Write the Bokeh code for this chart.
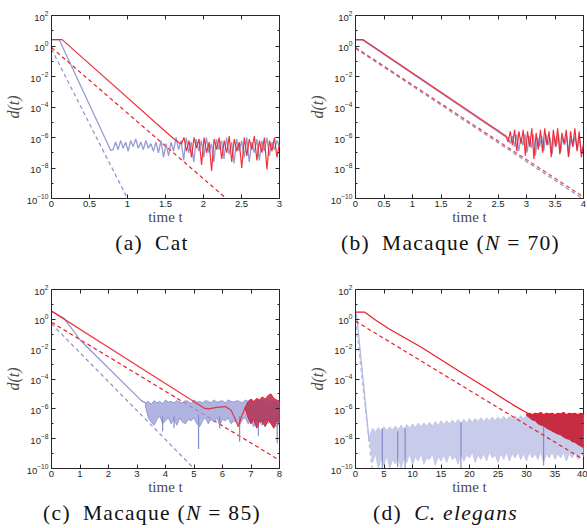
import numpy as np
from bokeh.plotting import figure
from bokeh.models import Range1d, FixedTicker, LogAxis, LinearAxis, Div
from bokeh.layouts import column, row
from bokeh.embed import file_html
from bokeh.resources import INLINE

# ------------------------------------------------------------------
# Data (values are log10 d(t))
# ------------------------------------------------------------------
y_major = [1e-10, 1e-8, 1e-6, 1e-4, 1e-2, 1e0, 1e2]
y_minor = [1e-9, 1e-7, 1e-5, 1e-3, 1e-1, 1e1]

# (a) Cat
xt_a = [0, 0.5, 1, 1.5, 2, 2.5, 3]
xl_a = ["0", "0.5", "1", "1.5", "2", "2.5", "3"]
red_a_t = [0.0, 0.14, 1.60, 1.68]
red_a_v = [0.42, 0.42, -6.05, -6.35]
red_a_noise_span = (1.71, 3.0)
red_a_noise = [-6.4, -6.0, -6.9, -6.2, -7.3, -6.0, -6.7, -6.1, -7.8, -6.0,
               -7.0, -6.3, -8.2, -6.1, -6.8, -6.0, -7.4, -6.2, -7.0, -5.9,
               -7.6, -6.1, -6.9, -6.3, -8.0, -6.0, -7.2, -6.1, -6.8, -5.9,
               -7.5, -6.2, -7.0, -6.0, -8.1, -6.2, -6.9, -6.0, -7.3, -6.4]
blue_a_t = [0.0, 0.10, 0.78]
blue_a_v = [0.42, 0.42, -6.85]
blue_a_noise_span = (0.81, 3.0)
blue_a_noise = [-6.8, -6.3, -6.8, -6.2, -6.7, -6.3, -6.9, -6.2, -6.6, -6.1,
                -6.7, -6.3, -6.8, -6.2, -6.7, -6.4, -6.9, -6.3, -7.0, -6.2,
                -7.3, -6.4, -7.2, -6.3, -6.9, -6.0, -6.8, -6.2, -7.5, -6.0,
                -7.0, -6.3, -7.6, -6.1, -6.9, -6.2, -7.3, -6.0, -7.0, -6.4,
                -7.6, -6.1, -6.8, -6.2, -7.4, -6.0, -7.1, -6.3, -7.7, -6.1,
                -6.9, -6.2, -7.3, -6.0, -7.6, -6.3, -7.0, -6.1, -7.5, -6.2,
                -6.9, -6.0, -7.2, -6.3, -6.8, -6.2, -6.6]
red_a_dash_t, red_a_dash_v = [0.0, 2.3], [-0.1, -10.0]
blue_a_dash_t, blue_a_dash_v = [0.0, 1.0], [-0.2, -10.0]

# (b) Macaque (N = 70)
xt_b = [0, 0.5, 1, 1.5, 2, 2.5, 3, 3.5, 4]
xl_b = ["0", "0.5", "1", "1.5", "2", "2.5", "3", "3.5", "4"]
red_b_t = [0.0, 0.13, 2.62]
red_b_v = [0.42, 0.42, -5.85]
red_b_noise_span = (2.64, 4.0)
red_b_noise = [-5.9, -6.3, -5.6, -6.5, -5.5, -6.9, -5.6, -6.4, -5.5, -7.2,
               -5.6, -6.6, -5.4, -7.4, -5.7, -6.8, -5.5, -7.0, -5.4, -6.5,
               -5.6, -7.3, -5.5, -6.6, -5.4, -7.1, -5.7, -6.4, -5.5, -7.3,
               -5.6, -6.6, -5.4, -6.9, -5.6, -7.3, -6.4]
blue_b_t = [0.0, 0.13, 2.65]
blue_b_v = [0.40, 0.38, -6.0]
blue_b_noise_span = (2.68, 4.0)
blue_b_noise = [-6.0, -6.4, -5.9, -6.6, -5.8, -6.9, -6.0, -6.5, -5.8, -7.0,
                -5.9, -6.7, -5.8, -7.2, -6.0, -6.6, -5.9, -6.9, -5.8, -6.5,
                -6.0, -7.1, -5.9, -6.6, -5.8, -7.0, -6.0, -6.5, -5.9, -7.2,
                -6.0, -6.6, -5.9, -6.8, -6.0, -7.0, -6.5]
red_b_dash_t, red_b_dash_v = [0.0, 4.0], [-0.1, -9.9]
blue_b_dash_t, blue_b_dash_v = [0.0, 4.0], [-0.16, -10.05]

# (c) Macaque (N = 85)
xt_c = [0, 1, 2, 3, 4, 5, 6, 7, 8]
xl_c = ["0", "1", "2", "3", "4", "5", "6", "7", "8"]
red_c_t = [0.0, 5.35, 5.5, 5.8, 6.1, 6.3, 6.45, 6.55, 6.65, 6.8]
red_c_v = [0.55, -5.95, -6.0, -5.9, -5.85, -6.1, -6.7, -7.2, -6.6, -5.9]
red_c_band_span = (6.8, 8.0)
red_c_upper = [-5.9, -5.5, -5.35, -5.5, -5.3, -5.4, -5.2, -5.35, -5.1, -5.0,
               -5.3, -5.4, -5.5]
red_c_lower = [-6.0, -6.6, -7.0, -6.7, -7.3, -6.8, -6.9, -7.2, -6.7, -7.0,
               -7.3, -6.8, -6.9]
blue_c_t = [0.0, 0.45, 1.02, 3.15, 3.3]
blue_c_v = [0.55, 0.05, -1.42, -5.45, -5.6]
blue_c_band_span = (3.3, 8.0)
blue_c_upper = [-5.6, -5.5, -5.7, -5.45, -5.6, -5.5, -5.65, -5.4, -5.55, -5.5,
                -5.6, -5.45, -5.55, -5.6, -5.45, -5.5, -5.65, -5.4, -5.55, -5.5,
                -5.6, -5.45, -5.5, -5.6, -5.4, -5.55, -5.5, -5.45, -5.6, -5.4,
                -5.5, -5.55, -5.45, -5.5, -5.6, -5.4, -5.5, -5.45, -5.55, -5.4,
                -5.5, -5.45, -5.6, -5.4, -5.5, -5.55, -5.45, -5.5]
blue_c_lower = [-5.9, -6.6, -6.9, -7.1, -6.7, -6.5, -7.0, -6.8, -6.6, -7.0,
                -6.7, -7.1, -6.6, -6.9, -7.0, -6.7, -6.8, -6.6, -7.0, -7.2,
                -6.8, -6.6, -7.0, -6.7, -6.9, -6.6, -7.1, -6.7, -6.8, -6.6,
                -7.0, -6.8, -6.9, -7.1, -6.7, -6.6, -7.0, -6.8, -7.2, -6.7,
                -6.9, -7.1, -6.6, -7.0, -6.8, -7.1, -7.2, -7.0]
blue_c_spike_t = [3.9, 4.3, 5.16, 5.9, 6.6, 7.26, 7.92]
blue_c_spike_top = [-6.5, -6.5, -6.4, -6.5, -6.5, -6.5, -6.5]
blue_c_spike_bot = [-7.5, -7.3, -8.7, -7.3, -8.2, -7.8, -8.3]
red_c_dash_t, red_c_dash_v = [0.0, 8.0], [-0.2, -9.45]
blue_c_dash_t, blue_c_dash_v = [0.0, 5.0], [-0.3, -10.0]

# (d) C. elegans
xt_d = [0, 5, 10, 15, 20, 25, 30, 35, 40]
xl_d = ["0", "5", "10", "15", "20", "25", "30", "35", "40"]
red_d_t = [0.0, 1.63, 3.5, 5.85, 11.7, 17.5, 23.4, 27.5, 29.5, 30.5]
red_d_v = [0.48, 0.48, -0.05, -0.63, -1.91, -3.32, -4.7, -5.7, -6.15, -6.35]
red_d_band_span = (30.0, 40.0)
red_d_upper = [-6.35, -6.3, -6.4, -6.3, -6.35, -6.25, -6.4, -6.3, -6.35, -6.3,
               -6.4, -6.3, -6.35, -6.25, -6.4, -6.3, -6.35, -6.3, -6.4, -6.3,
               -6.35]
red_d_lower = [-6.45, -6.6, -6.75, -6.8, -7.0, -7.1, -7.15, -7.3, -7.4, -7.5,
               -7.6, -7.7, -7.75, -7.9, -8.0, -8.05, -8.2, -8.25, -8.4, -8.5,
               -8.6]
blue_d_t = [0.0, 0.2, 2.4]
blue_d_v = [0.45, 0.3, -8.2]
blue_d_band_span = (2.5, 40.0)
blue_d_upper = [-7.75, -7.3, -7.55, -7.25, -7.5, -7.2, -7.45, -7.2, -7.4, -7.15,
                -7.4, -7.1, -7.35, -7.05, -7.3, -7.0, -7.25, -6.95, -7.2, -6.95,
                -7.15, -6.9, -7.15, -6.85, -7.1, -6.8, -7.05, -6.8, -7.0, -6.75,
                -7.0, -6.7, -6.95, -6.7, -6.95, -6.65, -6.9, -6.65, -6.85, -6.6,
                -6.85, -6.6, -6.8, -6.55, -6.8, -6.55, -6.75, -6.5, -6.75, -6.5,
                -6.7, -6.45, -6.7, -6.45, -6.65, -6.45, -6.65, -6.4, -6.65, -6.4,
                -6.6, -6.4, -6.6, -6.4, -6.6, -6.4, -6.6, -6.4, -6.6, -6.4,
                -6.6, -6.4, -6.6, -6.4, -6.6, -6.4]
blue_d_lower = [-8.0, -9.6, -9.0, -10.0, -9.3, -9.8, -9.1, -10.0, -9.4, -9.7,
                -9.2, -10.0, -9.3, -9.6, -9.0, -9.8, -9.2, -9.5, -9.0, -9.7,
                -9.3, -9.4, -9.0, -9.8, -9.2, -9.5, -9.1, -9.6, -9.0, -9.4,
                -9.2, -9.7, -9.0, -9.5, -9.1, -9.3, -8.9, -9.6, -9.1, -9.4,
                -9.0, -9.5, -8.9, -9.3, -9.1, -9.6, -9.0, -9.4, -8.9, -9.5,
                -9.0, -9.3, -8.9, -9.4, -9.0, -9.5, -8.9, -9.3, -9.0, -9.4,
                -8.9, -9.6, -9.0, -9.3, -8.9, -9.4, -9.0, -9.3, -8.9, -9.5,
                -9.0, -9.3, -8.9, -9.4, -9.0, -9.2]
blue_d_spike_t = [4.7, 7.4, 8.7, 18.5, 33.0]
blue_d_spike_top = [-7.3, -7.5, -7.3, -6.9, -6.8]
blue_d_spike_bot = [-10.0, -9.9, -10.0, -10.0, -9.8]
red_d_dash_t, red_d_dash_v = [0.0, 40.0], [-0.12, -9.4]
blue_d_dash_t, blue_d_dash_v = [0.0, 2.9], [0.0, -10.0]

captions = [
    "(a)&ensp;Cat",
    "(b)&ensp;Macaque (<i>N</i>&nbsp;=&nbsp;70)",
    "(c)&ensp;Macaque (<i>N</i>&nbsp;=&nbsp;85)",
    "(d)&ensp;<i>C.&nbsp;elegans</i>",
]
x_title = "time t"
y_title = "d(t)"

# ------------------------------------------------------------------
RED = "#ee1c25"
BLUE = "#7c83c6"
BLUE_DASH = "#8a90d0"
AX = "#262626"
SERIF = "Liberation Serif"


def P(v):
    return [10.0 ** x for x in v]


def span_t(span, vals):
    return list(np.linspace(span[0], span[1], len(vals)))


def make_panel(xmax, xt, xl, mbl, mbr, mbt, mbb, frame_h):
    p = figure(frame_width=228, frame_height=frame_h, x_range=Range1d(0, xmax),
               y_range=Range1d(1e-10, 1e2), y_axis_type="log",
               output_backend="svg", toolbar_location=None,
               min_border_left=mbl, min_border_right=mbr,
               min_border_top=mbt, min_border_bottom=mbb)
    p.xgrid.visible = False
    p.ygrid.visible = False
    p.outline_line_color = AX
    p.outline_line_width = 1
    p.background_fill_color = "white"
    p.border_fill_color = "white"

    xa = p.xaxis[0]
    xa.ticker = FixedTicker(ticks=xt, minor_ticks=[])
    xa.major_label_overrides = {float(t): s for t, s in zip(xt, xl)}
    ya = p.yaxis[0]
    ya.ticker = FixedTicker(ticks=y_major, minor_ticks=y_minor)
    for ax in (xa, ya):
        ax.axis_line_color = AX
        ax.major_tick_line_color = AX
        ax.minor_tick_line_color = AX
        ax.major_tick_in = 4
        ax.major_tick_out = 0
        ax.minor_tick_in = 2
        ax.minor_tick_out = 0
        ax.major_label_text_font = "Liberation Sans"
        ax.major_label_text_font_size = "9.5px"
        ax.major_label_text_color = AX
        ax.major_label_standoff = 2
        ax.axis_label_text_font = SERIF
        ax.axis_label_text_color = "#4a4a4a"
    ya.major_label_standoff = 3
    xa.axis_label = x_title
    xa.axis_label_text_font_style = "normal"
    xa.axis_label_text_font_size = "15px"
    xa.axis_label_standoff = -1
    ya.axis_label = y_title
    ya.axis_label_text_font_style = "italic"
    ya.axis_label_text_font_size = "16px"
    ya.axis_label_standoff = 2

    top = LinearAxis(ticker=FixedTicker(ticks=xt, minor_ticks=[]),
                     major_label_overrides={float(t): "" for t in xt},
                     major_label_text_font_size="0px", major_label_standoff=0,
                     major_tick_in=4, major_tick_out=0, axis_line_color=None,
                     major_tick_line_color=AX)
    p.add_layout(top, "above")
    right = LogAxis(ticker=FixedTicker(ticks=y_major, minor_ticks=y_minor),
                    major_label_overrides={float(t): "" for t in y_major},
                    major_label_text_font_size="0px", major_label_standoff=0,
                    major_tick_in=4, major_tick_out=0, minor_tick_in=2,
                    minor_tick_out=0, axis_line_color=None,
                    major_tick_line_color=AX, minor_tick_line_color=AX)
    p.add_layout(right, "right")
    return p


W_L, W_R = 304, 283

# ---- (a)
pa = make_panel(3, xt_a, xl_a, 51, 25, 15, 30, 183)
pa.line(blue_a_dash_t, P(blue_a_dash_v), color=BLUE_DASH, line_dash="4 3", line_width=1.2)
pa.line(red_a_dash_t, P(red_a_dash_v), color=RED, line_dash="4 3", line_width=1.2)
pa.line(blue_a_t + span_t(blue_a_noise_span, blue_a_noise), P(blue_a_v + blue_a_noise),
        color=BLUE, alpha=0.8, line_width=1.3)
pa.line(red_a_t + span_t(red_a_noise_span, red_a_noise), P(red_a_v + red_a_noise),
        color=RED, alpha=0.9, line_width=1.2)

# ---- (b)
pb = make_panel(4, xt_b, xl_b, 51, 4, 15, 30, 183)
pb.line(blue_b_dash_t, P(blue_b_dash_v), color=BLUE_DASH, line_dash="4 3", line_width=1.2)
pb.line(red_b_dash_t, P(red_b_dash_v), color=RED, line_dash="4 3", line_width=1.2, alpha=0.85)
pb.line(blue_b_t + span_t(blue_b_noise_span, blue_b_noise), P(blue_b_v + blue_b_noise),
        color=BLUE, alpha=0.8, line_width=1.3)
pb.line(red_b_t + span_t(red_b_noise_span, red_b_noise), P(red_b_v + red_b_noise),
        color=RED, alpha=0.9, line_width=1.2)

# ---- (c)
pc = make_panel(8, xt_c, xl_c, 51, 25, 31, 30, 179)
pc.line(blue_c_dash_t, P(blue_c_dash_v), color=BLUE_DASH, line_dash="4 3", line_width=1.2)
pc.line(red_c_dash_t, P(red_c_dash_v), color=RED, line_dash="4 3", line_width=1.2)
pc.line(blue_c_t, P(blue_c_v), color=BLUE, alpha=0.85, line_width=1.2)
bcu = span_t(blue_c_band_span, blue_c_upper)
bcl = span_t(blue_c_band_span, blue_c_lower)
pc.patch(bcu + bcl[::-1], P(blue_c_upper + blue_c_lower[::-1]),
         fill_color="#9ca1d8", fill_alpha=0.8, line_color="#858bca", line_width=0.8)
pc.segment(blue_c_spike_t, P(blue_c_spike_top), blue_c_spike_t, P(blue_c_spike_bot),
           color="#858bca", line_width=1.2)
rcu = span_t(red_c_band_span, red_c_upper)
rcl = span_t(red_c_band_span, red_c_lower)
pc.patch(rcu + rcl[::-1], P(red_c_upper + red_c_lower[::-1]),
         fill_color="#b03a5c", fill_alpha=0.9, line_color=RED, line_width=1.0)
pc.line(red_c_t, P(red_c_v), color=RED, alpha=0.85, line_width=1.2)

# ---- (d)
pd_ = make_panel(40, xt_d, xl_d, 51, 4, 31, 30, 179)
bt_u = span_t(blue_d_band_span, blue_d_upper)
bt_l = span_t(blue_d_band_span, blue_d_lower)
pd_.patch(bt_u + bt_l[::-1], P(blue_d_upper + blue_d_lower[::-1]),
          fill_color="#c8cbe9", line_color="#bfc3e6", line_width=0.8)
pd_.segment(blue_d_spike_t, P(blue_d_spike_top), blue_d_spike_t, P(blue_d_spike_bot),
            color="#7c83c6", line_width=1.2, alpha=0.9)
pd_.line(blue_d_t, P(blue_d_v), color="#b4b8e2", line_width=1.3)
pd_.line(blue_d_dash_t, P(blue_d_dash_v), color="#b4b8e2", line_dash="4 3", line_width=1.2)
pd_.line(red_d_dash_t, P(red_d_dash_v), color=RED, line_dash="4 3", line_width=1.2)
rt_u = span_t(red_d_band_span, red_d_upper)
rt_l = span_t(red_d_band_span, red_d_lower)
pd_.patch(rt_u + rt_l[::-1], P(red_d_upper + red_d_lower[::-1]),
          fill_color="#c62c42", line_color="#c62c42", line_width=0.8)
pd_.line(red_d_t, P(red_d_v), color=RED, line_width=1.2)
pd_.line(rt_u, P(red_d_upper), color=RED, line_width=1.2)

# ---- captions
CAP = (f"font-family:'{SERIF}'; font-size:21.5px; letter-spacing:1.3px; "
       "color:#111111; white-space:nowrap; text-align:center; margin:0;")


def cap(html, width, height, lh, pad):
    inner = (f'<div style="{CAP} width:{width - pad}px; height:{height}px; '
             f'line-height:{lh}px; padding-left:{pad}px;">{html}</div>')
    return Div(text=inner, width=width, height=height, margin=(0, 0, 0, 0))


ca = cap(captions[0], W_L, 30, 30, 18)
cb = cap(captions[1], W_R, 30, 30, 37)
cc = cap(captions[2], W_L, 30, 30, 18)
cd = cap(captions[3], W_R, 30, 30, 37)

layout = column(row(pa, pb), row(ca, cb), row(pc, pd_), row(cc, cd))

open("out.html", "w").write(file_html(layout, INLINE))
